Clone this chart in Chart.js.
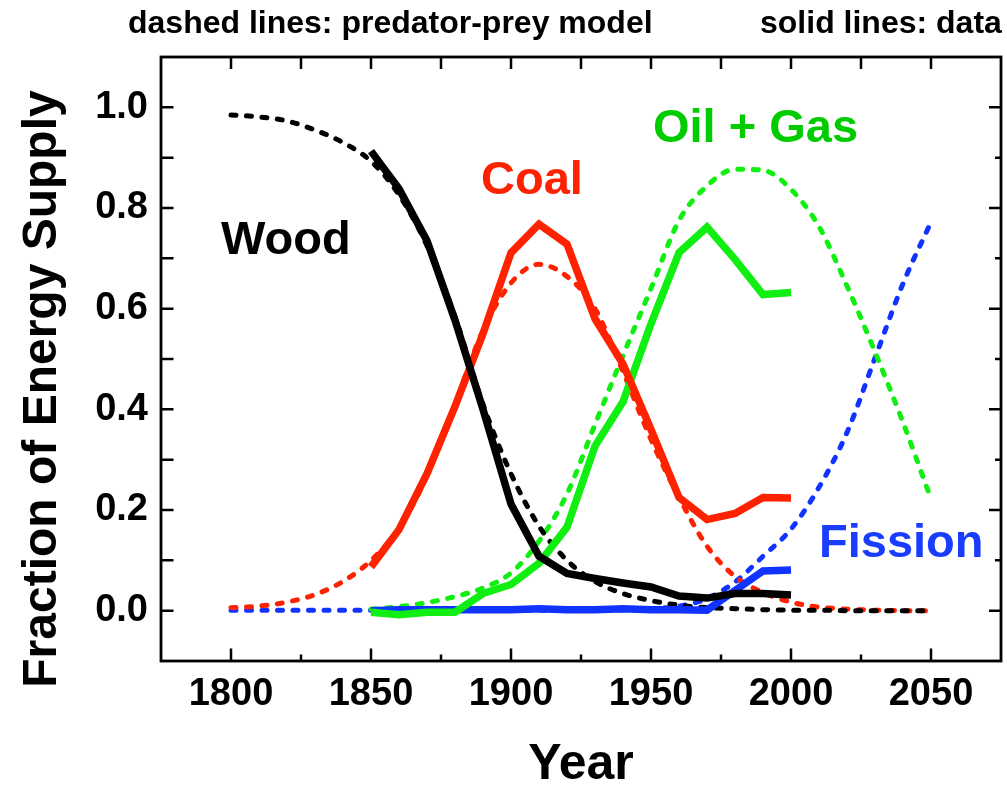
<!DOCTYPE html>
<html>
<head>
<meta charset="utf-8">
<script src="https://cdn.jsdelivr.net/npm/chart.js@4.4.1/dist/chart.umd.min.js"></script>
<style>
  html, body { margin: 0; padding: 0; background: #ffffff; }
  #wrap { position: relative; width: 1007px; height: 786px; }
  canvas { display: block; }
</style>
</head>
<body>
<div id="wrap"><canvas id="c" width="1007" height="786"></canvas></div>
<script>
// ---- data ----
const dataYears = [1850, 1860, 1870, 1880, 1890, 1900, 1910, 1920, 1930, 1940, 1950, 1960, 1970, 1980, 1990, 2000];
const woodData    = [0.913, 0.838, 0.735, 0.577, 0.400, 0.212, 0.108, 0.074, 0.064, 0.055, 0.047, 0.029, 0.025, 0.034, 0.034, 0.031];
const coalData    = [0.087, 0.161, 0.272, 0.406, 0.550, 0.711, 0.768, 0.728, 0.580, 0.490, 0.360, 0.225, 0.181, 0.193, 0.225, 0.224];
const oilGasData  = [-0.003, -0.008, -0.003, -0.003, 0.034, 0.052, 0.094, 0.166, 0.327, 0.415, 0.570, 0.711, 0.762, 0.698, 0.628, 0.632];
const fissionData = [0.000, 0.002, 0.002, 0.002, 0.002, 0.002, 0.004, 0.002, 0.002, 0.004, 0.002, 0.002, 0.001, 0.040, 0.079, 0.081];

const modelYears = [1800, 1810, 1820, 1830, 1840, 1850, 1860, 1870, 1880, 1890, 1900, 1910, 1920, 1930, 1940, 1950, 1960, 1970, 1980, 1990, 2000, 2010, 2020, 2030, 2040, 2050];
const woodModel    = [0.985, 0.981, 0.973, 0.955, 0.930, 0.893, 0.826, 0.725, 0.584, 0.410, 0.272, 0.168, 0.100, 0.058, 0.034, 0.020, 0.011, 0.006, 0.004, 0.002, 0.001, 0.001, 0.000, 0.000, 0.000, 0.000];
const coalModel    = [0.006, 0.009, 0.017, 0.032, 0.058, 0.100, 0.164, 0.268, 0.410, 0.557, 0.651, 0.688, 0.664, 0.600, 0.475, 0.340, 0.225, 0.128, 0.068, 0.036, 0.017, 0.007, 0.003, 0.001, 0.000, 0.000];
const oilGasModel  = [null, null, null, null, null, 0.003, 0.008, 0.016, 0.028, 0.045, 0.075, 0.138, 0.232, 0.370, 0.507, 0.640, 0.775, 0.844, 0.877, 0.875, 0.837, 0.763, 0.645, 0.514, 0.374, 0.222];
const fissionModel = [0.001, 0.001, 0.001, 0.001, 0.001, 0.001, 0.001, 0.001, 0.001, 0.001, 0.001, 0.001, 0.001, 0.001, 0.002, 0.004, 0.009, 0.024, 0.057, 0.108, 0.162, 0.245, 0.354, 0.502, 0.650, 0.772];

const xTickLabels  = [1800, 1850, 1900, 1950, 2000, 2050];
const xMinorTicks  = [1825, 1875, 1925, 1975, 2025];
const yTickLabels  = [0.0, 0.2, 0.4, 0.6, 0.8, 1.0];
const yMinorTicks  = [0.1, 0.3, 0.5, 0.7, 0.9];

const seriesLabels = ['Wood', 'Coal', 'Oil + Gas', 'Fission'];
const topNotes = ['dashed lines: predator-prey model', 'solid lines: data'];
const xTitle = 'Year';
const yTitle = 'Fraction of Energy Supply';

// ---- styles ----
const BLACK = '#000000', RED = '#ff2200', GREEN = '#11ee11', BLUE = '#1133ff';
const GREEN_TEXT = '#00cc00', BLUE_TEXT = '#1a3cff';
const FONT = 'Liberation Sans, Arial, Helvetica, sans-serif';

const zip = (xs, ys) => xs.map((x, i) => ({ x: x, y: ys[i] }));

function solid(label, ys, color) {
  return {
    label: label, data: zip(dataYears, ys),
    borderColor: color, borderWidth: 7.5, pointRadius: 0, tension: 0,
    borderCapStyle: 'butt', borderJoinStyle: 'miter', fill: false
  };
}
function dashed(label, ys, color) {
  return {
    label: label, data: zip(modelYears, ys),
    borderColor: color, borderWidth: 5, pointRadius: 0,
    cubicInterpolationMode: 'monotone',
    borderDash: [5, 10.5], borderCapStyle: 'round', fill: false
  };
}

// first dataset is drawn on top
const datasets = [
  solid('Wood data', woodData, BLACK),
  solid('Coal data', coalData, RED),
  solid('Oil + Gas data', oilGasData, GREEN),
  solid('Fission data', fissionData, BLUE),
  dashed('Wood model', woodModel, BLACK),
  dashed('Oil + Gas model', oilGasModel, GREEN),
  dashed('Coal model', coalModel, RED),
  dashed('Fission model', fissionModel, BLUE)
];

const framePlugin = {
  id: 'frame',
  afterDatasetsDraw(chart) {
    const { ctx, chartArea: a, scales } = chart;
    const xs = scales.x, ys = scales.y;
    ctx.save();
    ctx.strokeStyle = '#000';
    ctx.lineWidth = 2.5;
    ctx.beginPath();
    xTickLabels.forEach(v => { const p = xs.getPixelForValue(v); ctx.moveTo(p, a.bottom); ctx.lineTo(p, a.bottom - 12.5); });
    xMinorTicks.forEach(v => { const p = xs.getPixelForValue(v); ctx.moveTo(p, a.bottom); ctx.lineTo(p, a.bottom - 6.5); });
    xTickLabels.concat(xMinorTicks).forEach(v => { const p = xs.getPixelForValue(v); ctx.moveTo(p, a.top); ctx.lineTo(p, a.top + 12); });
    yTickLabels.concat(yMinorTicks).forEach(v => { const p = ys.getPixelForValue(v); ctx.moveTo(a.left, p); ctx.lineTo(a.left + 12.5, p); });
    yTickLabels.forEach(v => { const p = ys.getPixelForValue(v); ctx.moveTo(a.right, p); ctx.lineTo(a.right - 12, p); });
    yMinorTicks.forEach(v => { const p = ys.getPixelForValue(v); ctx.moveTo(a.right, p); ctx.lineTo(a.right - 6, p); });
    ctx.stroke();
    ctx.lineWidth = 2.8;
    ctx.strokeRect(a.left, a.top, a.right - a.left, a.bottom - a.top);

    ctx.font = 'bold 47px ' + FONT;
    ctx.textAlign = 'left';
    ctx.textBaseline = 'alphabetic';
    ctx.fillStyle = BLACK;      ctx.fillText(seriesLabels[0], 221, 254);
    ctx.fillStyle = RED;        ctx.fillText(seriesLabels[1], 481, 194);
    ctx.fillStyle = GREEN_TEXT; ctx.fillText(seriesLabels[2], 653, 142);
    ctx.fillStyle = BLUE_TEXT;  ctx.fillText(seriesLabels[3], 819, 557);

    ctx.fillStyle = '#000';
    ctx.font = 'bold 32px ' + FONT;
    ctx.fillText(topNotes[0], 128, 33);
    ctx.fillText(topNotes[1], 760, 33);

    ctx.save();
    ctx.translate(56, 389);
    ctx.rotate(-Math.PI / 2);
    ctx.textAlign = 'center';
    ctx.font = 'bold 48px ' + FONT;
    ctx.fillText(yTitle, 0, 0);
    ctx.restore();
    ctx.restore();
  }
};

new Chart(document.getElementById('c'), {
  type: 'line',
  data: { datasets: datasets },
  options: {
    responsive: false,
    animation: false,
    events: [],
    layout: { padding: { top: 57, right: 6, left: 0, bottom: 0 } },
    plugins: { legend: { display: false }, tooltip: { enabled: false }, title: { display: false } },
    scales: {
      x: {
        type: 'linear', min: 1775, max: 2075,
        grid: { display: false, drawTicks: false },
        border: { display: false },
        afterBuildTicks: s => { s.ticks = xTickLabels.map(v => ({ value: v })); },
        afterFit: s => { s.height = 125; },
        ticks: { padding: 11, color: '#000', font: { family: FONT, size: 38, weight: 'bold' }, maxRotation: 0, autoSkip: false, callback: v => String(v) },
        title: { display: true, text: xTitle, color: '#000', padding: 0, font: { family: FONT, size: 50, weight: 'bold', lineHeight: 0.84 } }
      },
      y: {
        type: 'linear', min: -0.1, max: 1.1,
        grid: { display: false, drawTicks: false },
        border: { display: false },
        afterBuildTicks: s => { s.ticks = yTickLabels.map(v => ({ value: v })); },
        afterFit: s => { s.width = 161; },
        ticks: { padding: 13, color: '#000', font: { family: FONT, size: 38, weight: 'bold' }, autoSkip: false, callback: v => Number(v).toFixed(1) },
        title: { display: false }
      }
    }
  },
  plugins: [framePlugin]
});
</script>
</body>
</html>
